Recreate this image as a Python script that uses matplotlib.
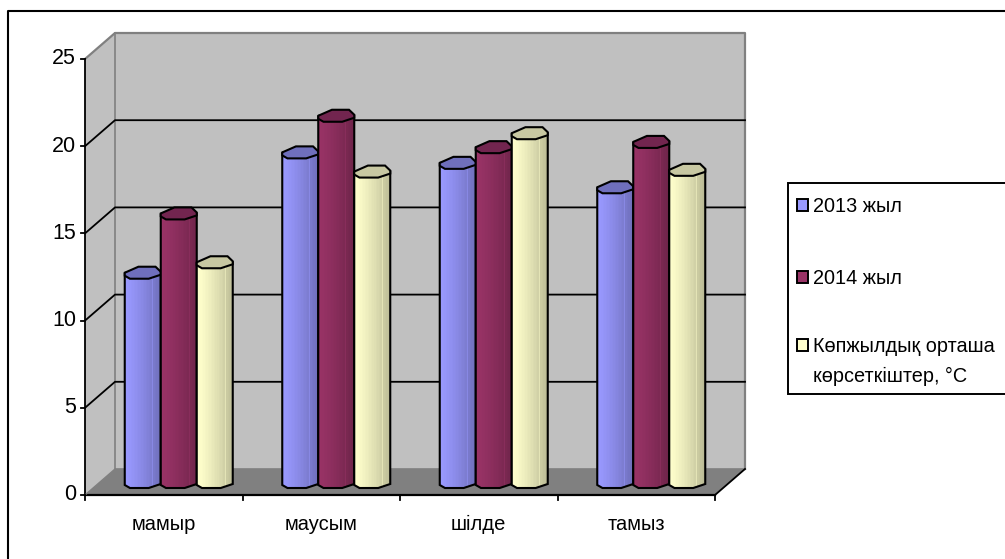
import matplotlib
matplotlib.use('Agg')
import matplotlib.pyplot as plt
from matplotlib.lines import Line2D
from matplotlib.patches import PathPatch, Rectangle
from matplotlib.path import Path
import numpy as np

plt.rcParams['font.family'] = ['Liberation Sans', 'DejaVu Sans']

#DATA
months = ['мамыр', 'маусым', 'шілде', 'тамыз']
series_names = ['2013 жыл', '2014 жыл', 'Көпжылдық орташа\nкөрсеткіштер, °C']
values_2013 = [12.0, 18.9, 18.3, 16.9]
values_2014 = [15.4, 21.0, 19.2, 19.5]
values_norm = [12.6, 17.8, 20.0, 17.9]
yticks = [0, 5, 10, 15, 20, 25]

#COLORS (light side, dark side, cap)
light = [(153, 153, 255), (153, 51, 102), (255, 255, 204)]
dark = [(112, 112, 188), (112, 37, 75), (188, 188, 150)]
caps = ['#6f6fbc', '#72254f', '#c8c8a2']
wall = '#c0c0c0'
floor = '#808080'

W, H = 1005, 559
fig = plt.figure(figsize=(W / 100, H / 100), dpi=100, facecolor='white')

#front plane of the box in pixels
px_left, px_right = 85, 715
px_top, px_bottom = 59, 495
ax = fig.add_axes([px_left / W, 1 - px_bottom / H, (px_right - px_left) / W, (px_bottom - px_top) / H])
ax.set_xlim(0, 4)
ax.set_ylim(0, 25)
ax.axis('off')

#depth of the box in data units
ux = 4 / (px_right - px_left)
uy = 25 / (px_bottom - px_top)
dx = 30 * ux
dy = 26 * uy

#walls and floor
ax.fill([dx, 4 + dx, 4 + dx, dx], [dy, dy, 25 + dy, 25 + dy], color=wall, lw=0, clip_on=False)
ax.fill([0, dx, dx, 0], [0, dy, 25 + dy, 25], color=wall, lw=0, clip_on=False)
ax.fill([0, 4, 4 + dx, dx], [0, 0, dy, dy], color=floor, lw=0, clip_on=False)
ax.plot([0, dx, 4 + dx, 4 + dx], [25, 25 + dy, 25 + dy, dy], color='#808080', lw=1.6, clip_on=False)
ax.plot([dx, dx, 4 + dx], [25 + dy, dy, dy], color='#808080', lw=1.2, clip_on=False)

#gridlines
for t in yticks[1:-1]:
    ax.plot([0, dx, 4 + dx], [t, t + dy, t + dy], color='black', lw=1.3, clip_on=False)

#axes lines and ticks
ax.plot([0, 4], [0, 0], color='black', lw=1.6, clip_on=False)
ax.plot([0, 0], [0, 25], color='black', lw=1.3, clip_on=False)
ax.plot([4, 4 + dx], [0, dy], color='black', lw=1.3, clip_on=False)
ax.plot([0, dx], [0, dy], color='#808080', lw=1, clip_on=False)
for t in yticks:
    ax.plot([-4 * ux, 0], [t, t], color='black', lw=1.3, clip_on=False)
    ax.text(-9 * ux, t, str(t), ha='right', va='center', fontsize=15.5, clip_on=False)
for i in range(5):
    ax.plot([i, i], [0, -5 * uy], color='black', lw=1.3, clip_on=False)
for i, m in enumerate(months):
    ax.text(i + 0.5, -29 * uy, m, ha='center', va='center', fontsize=14.5, clip_on=False)

#low-poly cylinder end, (fraction of half width, pixels from the centre)
cap_upper = [(-1, 0), (-0.24, 6), (0.71, 6), (1, 1)]
cap_lower = [(1, -2), (0.33, -6), (-0.71, -6), (-1, -3)]


def bar_paths(xc, half, top):
    base = dy / 2
    body = [(xc - half, top)]
    body += [(xc + a * half, base + b * uy) for a, b in cap_lower[::-1]]
    body += [(xc + half, top), (xc - half, top)]
    cap = [(xc + a * half, top + b * uy) for a, b in cap_upper + cap_lower]
    return body, cap


#cylinders, a strip of colour bands each, clipped to the outline
bar_w = 36 * ux
for s, vals in enumerate([values_2013, values_2014, values_norm]):
    c0 = np.array(light[s]) / 255
    c1 = np.array(dark[s]) / 255
    bands = np.linspace(0, 1, 24) ** 1.3
    cols = [c0 + (c1 - c0) * b for b in bands]
    cols[18] = c0 + (c1 - c0) * 0.4
    strip = np.array([cols])
    for i, v in enumerate(vals):
        xc = i + 0.5 + (s - 1) * bar_w + dx / 2
        top = v + dy / 2
        body, cap = bar_paths(xc, bar_w / 2, top)
        z = 3 + i * 10 + s
        im = ax.imshow(strip, extent=[xc - bar_w / 2, xc + bar_w / 2, 0, top + 1], aspect='auto',
                       interpolation='nearest', zorder=z)
        p = PathPatch(Path(body), fc='none', ec='black', lw=1.5, zorder=z + 0.1, clip_on=False)
        ax.add_patch(p)
        im.set_clip_path(p)
        ax.fill(*zip(*cap), fc=caps[s], ec='black', lw=1.5, zorder=z + 0.2, clip_on=False)
ax.set_xlim(0, 4)
ax.set_ylim(0, 25)

#outer frame, left and top only
fig.add_artist(Line2D([7.5 / W, 7.5 / W, 1], [0, 1 - 11 / H, 1 - 11 / H], transform=fig.transFigure,
                      color='black', lw=1.5))

#legend box, runs off the right edge
leg_l, leg_t, leg_b = 788, 183, 394
fig.add_artist(Rectangle((leg_l / W, 1 - leg_b / H), (W + 5 - leg_l) / W, (leg_b - leg_t) / H,
                         transform=fig.transFigure, fc='white', ec='black', lw=1.4))
for s, (name, yy) in enumerate(zip(series_names, [205, 277, 345])):
    fig.add_artist(Rectangle((796.5 / W, 1 - (yy + 6) / H), 11 / W, 12 / H, transform=fig.transFigure,
                             fc=np.array(light[s]) / 255, ec='black', lw=1.4))
    fig.text(813 / W, 1 - (yy - 8) / H, name, ha='left', va='top', fontsize=14.3, linespacing=1.7)

fig.savefig('out.png', dpi=100)
